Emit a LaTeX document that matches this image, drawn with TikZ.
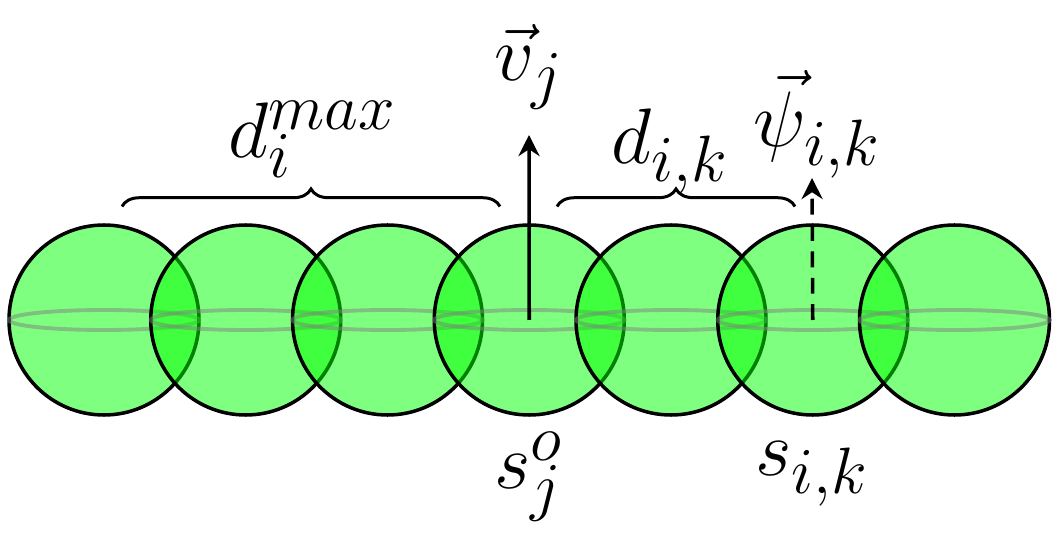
\documentclass[tikz,border=0pt]{standalone}
\usetikzlibrary{decorations.pathreplacing,arrows.meta}
\begin{document}
\begin{tikzpicture}[
    ball/.style={circle, minimum size=3.8cm, draw=black, line width=2pt,
        fill=green, fill opacity=0.5, draw opacity=1, inner sep=0pt},
    rim/.style={draw=gray, line width=2.2pt, draw opacity=0.5},
    brace/.style={decorate, decoration={brace, amplitude=10pt}, line width=1.7pt},
    vec/.style={-{Stealth[length=12pt,width=12pt]}, line width=2pt},
    lbl/.style={font=\Huge, scale=1.8, transform shape, inner sep=1pt}
    ]
    \useasboundingbox (0,0) rectangle (21.18,11.08);
    % spheres
    \foreach \i in {1,...,7}{
        \node [ball] (c\i) at ({2.08+2.835*(\i-1)},4.68) {};
        \draw [rim] (c\i) ellipse (1.9cm and 0.2cm);
    }
    % braces
    \coordinate (b1) at (2.44,6.95);
    \coordinate (b2) at (10.0,6.95);
    \coordinate (b3) at (11.14,6.95);
    \coordinate (b4) at (15.9,6.95);
    \draw [brace] (b1) -- (b2);
    \draw [brace] (b3) -- (b4);
    \node [lbl] (dmax) at (6.25,8.3) {$d_i^{max}$};
    \node [lbl] (dik) at (13.4,8.05) {$d_{i,k}$};
    % vectors
    \coordinate (vj) at (10.58,8.38);
    \coordinate (psi) at (16.24,7.52);
    \draw [vec] (c4.center) -- (vj);
    \draw [vec, dash pattern=on 9pt off 6pt] (c6.center) -- (psi);
    \node [lbl] (vlab) at (10.58,9.75) {$\vec{v}_j$};
    \node [lbl] (psilab) at (16.35,8.6) {$\vec{\psi}_{i,k}$};
    % points
    \node [lbl] (so) at (10.58,1.55) {$s_j^o$};
    \node [lbl] (sik) at (16.24,1.6) {$s_{i,k}$};
\end{tikzpicture}
\end{document}
